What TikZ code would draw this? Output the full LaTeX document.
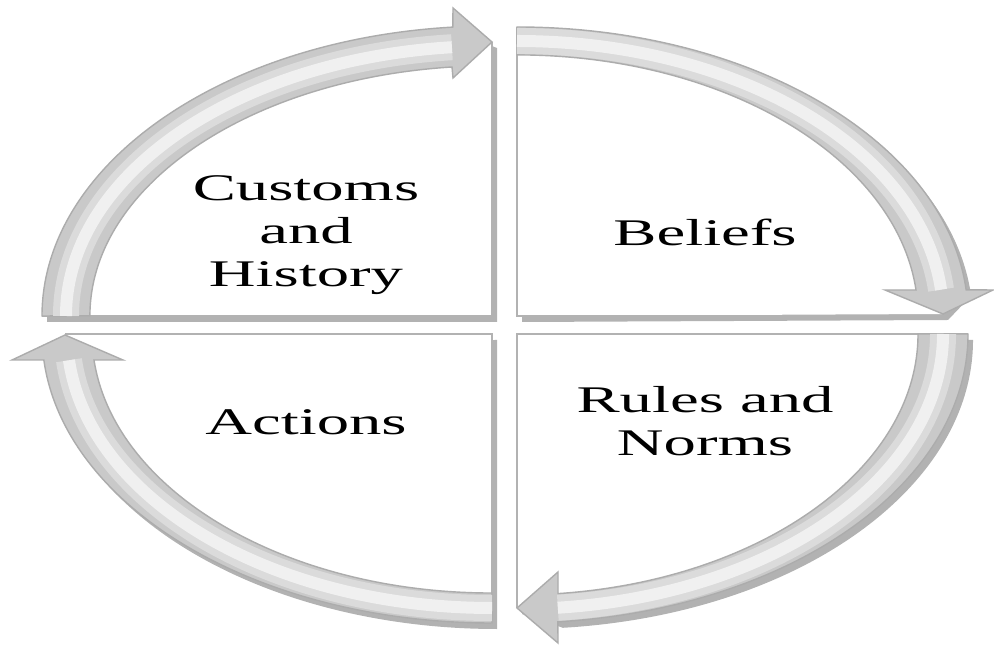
\documentclass[tikz,border=0pt]{standalone}
\usepackage{fontspec}
\usepackage{tikz}
\usetikzlibrary{shadows}
\newfontfamily\lblfont[FakeStretch=1.72]{Liberation Serif}

\begin{document}
\begin{tikzpicture}[
  quad/.style={fill=white,drop shadow={shadow xshift=0.5mm,shadow yshift=-0.6mm,fill=black,opacity=0.3}},
  rim/.style={draw=gray!60,line width=0.6pt},
  band/.style={fill=gray!42,draw=gray!65,line width=0.4pt},
  glow/.style={draw=gray!28,line width=0.26cm},
  shine/.style={draw=gray!12,line width=0.12cm},
  lbl/.style={align=center,font=\lblfont\fontsize{10.7}{12.3}\selectfont}]
\useasboundingbox (0,0) rectangle (9.94,6.47);

% top left
\fill[quad] (4.92,3.31) -- (0.42,3.31) arc[start angle=180,end angle=95,x radius=4.5,y radius=2.9] -- (4.92,6.05) -- cycle;
\draw[rim] (0.42,3.31) -- (4.92,3.31) -- (4.92,6.05);
\filldraw[band] (0.42,3.31) arc[start angle=180,end angle=95,x radius=4.5,y radius=2.9]
  -- (4.53,6.39) -- (4.92,6.05) -- (4.53,5.69) -- (4.52,5.80)
  arc[start angle=95.7,end angle=180,x radius=4.02,y radius=2.5] -- cycle;
\draw[glow] (0.66,3.31) arc[start angle=180,end angle=95.4,x radius=4.26,y radius=2.7];
\draw[shine] (0.66,3.31) arc[start angle=180,end angle=95.4,x radius=4.26,y radius=2.7];

% top right
\fill[quad] (5.17,3.31) -- (5.17,6.20) arc[start angle=90,end angle=5.2,x radius=4.51,y radius=2.89] -- (9.43,3.33) -- cycle;
\draw[rim] (9.43,3.31) -- (5.17,3.31) -- (5.17,6.20);
\filldraw[band] (5.17,6.20) arc[start angle=90,end angle=5.2,x radius=4.51,y radius=2.89]
  -- (9.93,3.57) -- (9.43,3.33) -- (8.85,3.57) -- (9.16,3.57)
  arc[start angle=5.7,end angle=90,x radius=4.01,y radius=2.61] -- cycle;
\draw[glow] (5.17,6.06) arc[start angle=90,end angle=5.5,x radius=4.26,y radius=2.75];
\draw[shine] (5.17,6.06) arc[start angle=90,end angle=5.5,x radius=4.26,y radius=2.75];

% bottom right
\fill[quad] (5.17,3.13) -- (9.68,3.13) arc[start angle=0,end angle=-84.8,x radius=4.51,y radius=2.89] -- (5.17,0.39) -- cycle;
\draw[rim] (9.68,3.13) -- (5.17,3.13) -- (5.17,0.39);
\filldraw[band] (9.68,3.13) arc[start angle=0,end angle=-84.8,x radius=4.51,y radius=2.89]
  -- (5.58,0.04) -- (5.17,0.39) -- (5.58,0.75) -- (5.58,0.534)
  arc[start angle=-84.13,end angle=0,x radius=4.01,y radius=2.61] -- cycle;
\draw[glow] (9.43,3.13) arc[start angle=0,end angle=-84.5,x radius=4.26,y radius=2.75];
\draw[shine] (9.43,3.13) arc[start angle=0,end angle=-84.5,x radius=4.26,y radius=2.75];

% bottom left
\fill[quad] (4.92,3.13) -- (4.92,0.24) arc[start angle=270,end angle=185.16,x radius=4.5,y radius=2.89] -- (0.65,3.12) -- cycle;
\draw[rim] (0.65,3.13) -- (4.92,3.13) -- (4.92,0.24);
\filldraw[band] (4.92,0.24) arc[start angle=270,end angle=185.16,x radius=4.5,y radius=2.89]
  -- (0.12,2.87) -- (0.65,3.12) -- (1.23,2.87) -- (0.94,2.87)
  arc[start angle=185.76,end angle=270,x radius=4.0,y radius=2.59] -- cycle;
\draw[glow] (4.92,0.39) arc[start angle=270,end angle=185.5,x radius=4.25,y radius=2.74];
\draw[shine] (4.92,0.39) arc[start angle=270,end angle=185.5,x radius=4.25,y radius=2.74];

\node[lbl] (customs) at (3.06,4.12) {Customs\\and\\History};
\node[lbl] (beliefs) at (7.05,4.15) {Beliefs};
\node[lbl] (rules)   at (7.05,2.26) {Rules and\\Norms};
\node[lbl] (actions) at (3.06,2.25) {Actions};
\end{tikzpicture}
\end{document}
